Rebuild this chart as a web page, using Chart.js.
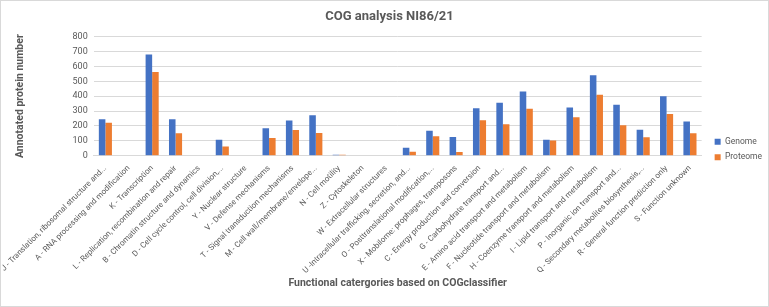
<!DOCTYPE html>
<html>
<head>
<meta charset="utf-8">
<script src="https://cdn.jsdelivr.net/npm/chart.js@4"></script>
<style>
  html, body { margin: 0; padding: 0; background: #fff; }
  .frame { width: 767px; height: 305px; border: 1px solid #d9d9d9; }
</style>
</head>
<body>
<div class="frame"><canvas id="chartCog" width="767" height="305"></canvas></div>
<script>
const categorias = [
  'J - Translation, ribosomal structure and...',
  'A - RNA processing and modification',
  'K - Transcription',
  'L - Replication, recombination and repair',
  'B - Chromatin structure and dynamics',
  'D - Cell cycle control, cell division,...',
  'Y - Nuclear structure',
  'V - Defense mechanisms',
  'T - Signal transduction mechanisms',
  'M - Cell wall/membrane/envelope...',
  'N - Cell motility',
  'Z - Cytoskeleton',
  'W - Extracellular structures',
  'U -Intracellular trafficking, secretion, and...',
  'O - Posttranslational modification,...',
  'X - Mobilome: prophages, transposons',
  'C - Energy production and conversion',
  'G - Carbohydrate transport and...',
  'E - Amino acid transport and metabolism',
  'F - Nucleotide transport and metabolism',
  'H - Coenzyme transport and metabolism',
  'I - Lipid transport and metabolism',
  'P - Inorganic ion transport and...',
  'Q - Secondary metabolites biosynthesis,...',
  'R - General function prediction only',
  'S - Function unknown',
];

const genome   = [244, 0, 680, 245, 0, 107, 0, 184, 236, 271, 7, 0, 0, 53, 168, 125, 318, 355, 431, 107, 324, 540, 343, 175, 400, 230];
const proteome = [221, 0, 563, 150, 0, 61, 0, 119, 172, 153, 7, 0, 0, 27, 130, 24, 238, 212, 316, 102, 258, 410, 205, 124, 280, 150];

const yTicks = { min: 0, max: 800, step: 100 };

const cinza = '#595959';

new Chart(document.getElementById('chartCog'), {
  type: 'bar',
  data: {
    labels: categorias,
    datasets: [
      { label: 'Genome',   data: genome,   backgroundColor: '#4472c4', barPercentage: 1, categoryPercentage: 0.56 },
      { label: 'Proteome', data: proteome, backgroundColor: '#ed7d31', barPercentage: 1, categoryPercentage: 0.56 },
    ],
  },
  options: {
    responsive: false,
    animation: false,
    layout: { padding: { left: 6, right: -4, top: 4, bottom: 12 } },
    plugins: {
      title: {
        display: true,
        text: 'COG analysis NI86/21',
        color: cinza,
        font: { family: 'Roboto', size: 13, weight: 'bold' },
        padding: { top: 4, bottom: 12 },
      },
      legend: {
        position: 'right',
        labels: {
          color: cinza,
          font: { family: 'Roboto', size: 8.5 },
          boxWidth: 6,
          boxHeight: 6,
          padding: 7,
        },
      },
      tooltip: { enabled: false },
    },
    scales: {
      x: {
        grid: { display: false },
        border: { color: '#d9d9d9' },
        ticks: {
          color: cinza,
          font: { family: 'Roboto', size: 8 },
          maxRotation: 45,
          minRotation: 45,
          autoSkip: false,
          padding: 0,
        },
        title: {
          display: true,
          text: 'Functional catergories based on COGclassifier',
          color: cinza,
          font: { family: 'Roboto', size: 10.5, weight: 'bold' },
          padding: { top: 2 },
        },
      },
      y: {
        min: yTicks.min,
        max: yTicks.max,
        grid: { color: '#d9d9d9', drawTicks: false },
        border: { display: false },
        ticks: {
          stepSize: yTicks.step,
          color: cinza,
          font: { family: 'Roboto', size: 9 },
          padding: 6,
        },
        title: {
          display: true,
          text: 'Annotated protein number',
          color: cinza,
          font: { family: 'Roboto', size: 10.5, weight: 'bold' },
          padding: { bottom: 40 },
        },
      },
      // espaço vazio entre a área do gráfico e a legenda
      gap: {
        position: 'right',
        display: true,
        grid: { display: false },
        border: { display: false },
        ticks: { display: false },
        afterFit: s => { s.width = 6; },
      },
    },
  },
});
</script>
</body>
</html>
